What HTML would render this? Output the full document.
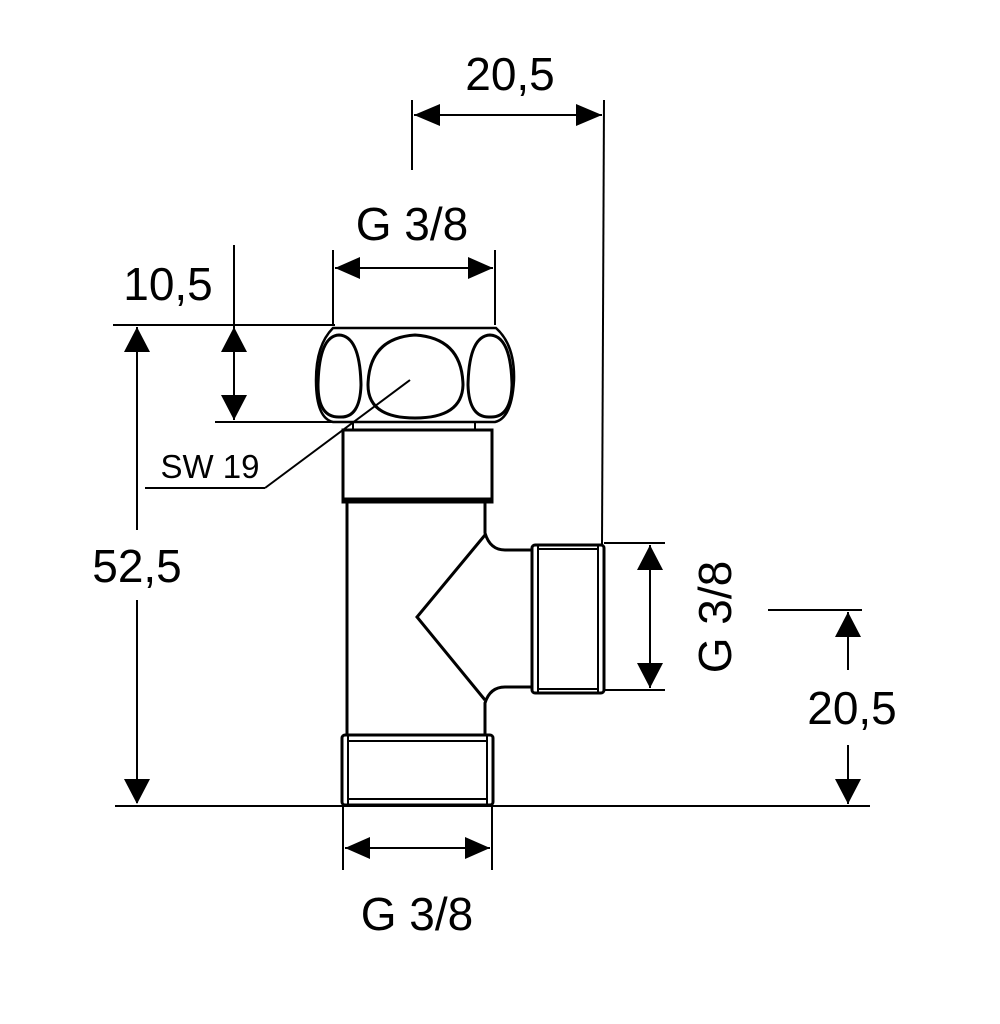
<!DOCTYPE html>
<html><head><style>html,body{margin:0;background:#fff}svg{display:block}text{font-family:"Liberation Sans",sans-serif;fill:#000}</style></head>
<body>
<svg width="1000" height="1024" viewBox="0 0 1000 1024">
<g stroke="#000" fill="none" stroke-width="2">
<line x1="412" y1="100" x2="412" y2="170"/>
<line x1="604" y1="100" x2="602" y2="545"/>
<line x1="414" y1="115" x2="602" y2="115"/>
<line x1="333" y1="250" x2="333" y2="325"/>
<line x1="495" y1="250" x2="495" y2="325"/>
<line x1="335" y1="268" x2="493" y2="268"/>
<line x1="234" y1="245" x2="234" y2="420"/>
<line x1="113" y1="325" x2="335" y2="325"/>
<line x1="215" y1="422" x2="345" y2="422"/>
<line x1="137" y1="327" x2="137" y2="530"/>
<line x1="137" y1="600" x2="137" y2="803"/>
<line x1="115" y1="806" x2="870" y2="806"/>
<line x1="145" y1="488" x2="265" y2="488"/>
<line x1="265" y1="488" x2="410" y2="380"/>
<line x1="343" y1="806" x2="343" y2="870"/>
<line x1="492" y1="806" x2="492" y2="870"/>
<line x1="345" y1="848" x2="490" y2="848"/>
<line x1="604" y1="543" x2="665" y2="543"/>
<line x1="604" y1="690" x2="665" y2="690"/>
<line x1="650" y1="545" x2="650" y2="688"/>
<line x1="768" y1="610" x2="862" y2="610"/>
<line x1="848" y1="612" x2="848" y2="670"/>
<line x1="848" y1="745" x2="848" y2="804"/>
</g>
<g fill="#000">
<path d="M414,115 L440,104 L440,126Z"/><path d="M602,115 L576,104 L576,126Z"/>
<path d="M335,268 L360,257 L360,279Z"/><path d="M493,268 L468,257 L468,279Z"/>
<path d="M234,327 L221,352 L247,352Z"/><path d="M234,420 L221,395 L247,395Z"/>
<path d="M137,327 L124,352 L150,352Z"/><path d="M137,804 L124,779 L150,779Z"/>
<path d="M345,848 L370,837 L370,859Z"/><path d="M490,848 L465,837 L465,859Z"/>
<path d="M650,545 L637,570 L663,570Z"/><path d="M650,688 L637,663 L663,663Z"/>
<path d="M848,612 L835,637 L861,637Z"/><path d="M848,804 L835,779 L861,779Z"/>
</g>
<g stroke="#000" fill="none" stroke-width="3">
<path d="M333,328 L496,328 Q515,345 514,380 Q512,418 495,422 L333,422 Q316,418 316,380 Q316,345 333,328Z" stroke-width="2.5"/>
<path d="M339,335 Q360,336 361,385 Q360,418 340,417 Q318,418 318,385 Q319,336 339,335Z"/>
<path d="M415,335 Q462,338 463,385 Q462,418 415,418 Q368,418 368,385 Q369,338 415,335Z"/>
<path d="M490,335 Q511,336 512,385 Q511,418 490,417 Q469,418 468,385 Q469,336 490,335Z"/>
<rect x="353" y="422" width="122" height="8" stroke-width="2"/>
<rect x="343" y="430" width="149" height="72"/>
<line x1="343" y1="500" x2="492" y2="500" stroke-width="5"/>
<line x1="347" y1="502" x2="347" y2="735"/>
<path d="M485,502 L485,533 Q490,550 505,550 L532,550"/>
<path d="M485,735 L485,703 Q490,687 505,687 L532,687"/>
<path d="M485,535 L417,617 L485,700"/>
<rect x="532" y="545" width="72" height="148" rx="3"/>
<line x1="538" y1="545" x2="538" y2="693" stroke-width="2"/>
<line x1="598" y1="545" x2="598" y2="693" stroke-width="2"/>
<line x1="538" y1="549" x2="598" y2="549" stroke-width="2"/>
<line x1="538" y1="689" x2="598" y2="689" stroke-width="2"/>
<rect x="342" y="735" width="151" height="70" rx="3"/>
<line x1="348" y1="741" x2="487" y2="741" stroke-width="2"/>
<line x1="348" y1="799" x2="487" y2="799" stroke-width="2"/>
<line x1="348" y1="735" x2="348" y2="805" stroke-width="2"/>
<line x1="487" y1="735" x2="487" y2="805" stroke-width="2"/>
</g>
<g font-size="46">
<text x="510" y="90" text-anchor="middle">20,5</text>
<text x="412" y="240" text-anchor="middle">G 3/8</text>
<text x="168" y="300" text-anchor="middle">10,5</text>
<text x="137" y="582" text-anchor="middle">52,5</text>
<text x="417" y="930" text-anchor="middle">G 3/8</text>
<text x="852" y="724" text-anchor="middle">20,5</text>
<text transform="translate(731,617) rotate(-90)" text-anchor="middle">G 3/8</text>
</g>
<text x="210" y="478" font-size="33" text-anchor="middle">SW 19</text>
</svg>
</body></html>
